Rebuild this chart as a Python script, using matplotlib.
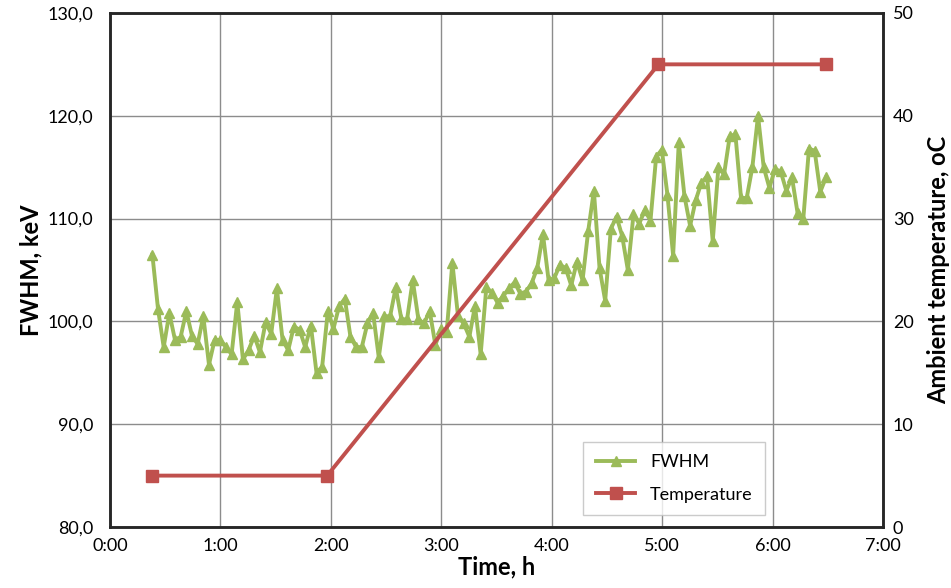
from matplotlib import pyplot as plt
from matplotlib.ticker import FuncFormatter

# FWHM readings (keV), sampled about every 3 min from 0:23 to 6:29
fwhm = [106.5, 101.2, 97.5, 100.8, 98.2, 98.5, 101.0, 98.6, 97.8, 100.5,
        95.8, 98.2, 98.2, 97.5, 96.8, 101.9, 96.3, 97.2, 98.6, 97.0,
        99.9, 98.8, 103.2, 98.2, 97.2, 99.5, 99.2, 97.5, 99.6, 95.0,
        95.6, 101.0, 99.3, 101.5, 102.2, 98.5, 97.5, 97.5, 99.8, 100.8,
        96.5, 100.5, 100.5, 103.3, 100.2, 100.2, 104.0, 100.2, 99.8, 101.0,
        97.7, 99.3, 99.0, 105.7, 100.5, 99.8, 98.5, 101.5, 96.8, 103.3,
        102.8, 101.8, 102.5, 103.2, 103.8, 102.7, 102.9, 103.7, 105.2, 108.5,
        104.0, 104.2, 105.5, 105.2, 103.5, 105.8, 104.0, 108.8, 112.7, 105.2,
        102.0, 109.0, 110.2, 108.3, 105.0, 110.4, 109.5, 110.8, 109.8, 116.0,
        116.7, 112.3, 106.4, 117.4, 112.2, 109.3, 111.8, 113.5, 114.1, 107.8,
        115.0, 114.3, 118.0, 118.2, 112.0, 112.0, 115.0, 120.0, 115.0, 113.0,
        114.8, 114.6, 112.7, 114.0, 110.5, 110.0, 116.8, 116.6, 112.6, 114.0]
fwhm_start = 23  # minutes
fwhm_end = 389

# temperature profile (oC)
temp_time = [23, 118, 298, 389]  # minutes
temp_vals = [5, 5, 45, 45]

n = len(fwhm)
fwhm_time = [(fwhm_start + i * (fwhm_end - fwhm_start) / (n - 1)) / 60 for i in range(n)]
temp_hours = [t / 60 for t in temp_time]

plt.rcParams['font.family'] = ['Lato', 'DejaVu Sans']

fig = plt.figure(figsize=(9.51, 5.88), dpi=100)
ax = fig.add_axes([0.1157, 0.1037, 0.8128, 0.8743])
ax2 = ax.twinx()

green = '#9BBB59'
red = '#C0504D'

l1, = ax.plot(fwhm_time, fwhm, color=green, lw=2.8, marker='^', ms=7.5,
              label='FWHM', zorder=3)
l2, = ax2.plot(temp_hours, temp_vals, color=red, lw=2.8, marker='s', ms=8,
               label='Temperature', zorder=3)

ax.set_xlim(0, 7)
ax.set_ylim(80, 130)
ax2.set_ylim(0, 50)
ax.set_xticks(range(0, 8))
ax.set_yticks(range(80, 131, 10))
ax2.set_yticks(range(0, 51, 10))
ax.xaxis.set_major_formatter(FuncFormatter(lambda v, p: '%d:00' % int(round(v))))
ax.yaxis.set_major_formatter(FuncFormatter(lambda v, p: ('%.1f' % v).replace('.', ',')))

ax.grid(True, color='#8c8c8c', lw=1)
ax.set_axisbelow(True)
for a in (ax, ax2):
    a.tick_params(length=0, labelsize=13)
    for s in a.spines.values():
        s.set_color('#262626')
        s.set_linewidth(1.8)
ax.tick_params(axis='y', pad=12)
ax.tick_params(axis='x', pad=8)
ax2.tick_params(axis='y', pad=7)

ax.set_xlabel('Time, h', fontsize=17, fontweight='bold', labelpad=1)
ax.set_ylabel('FWHM, keV', fontsize=17, fontweight='bold', labelpad=4)
ax2.set_ylabel('Ambient temperature, oC', fontsize=17, fontweight='bold', labelpad=10)

leg = ax2.legend(handles=[l1, l2], loc='lower left', bbox_to_anchor=(0.612, 0.023),
                 borderaxespad=0, fontsize=13, frameon=True, fancybox=False,
                 handlelength=2.2, borderpad=0.7, labelspacing=0.9)
leg.get_frame().set_edgecolor('#bfbfbf')
leg.get_frame().set_linewidth(1)

fig.savefig('out.png', dpi=100)
